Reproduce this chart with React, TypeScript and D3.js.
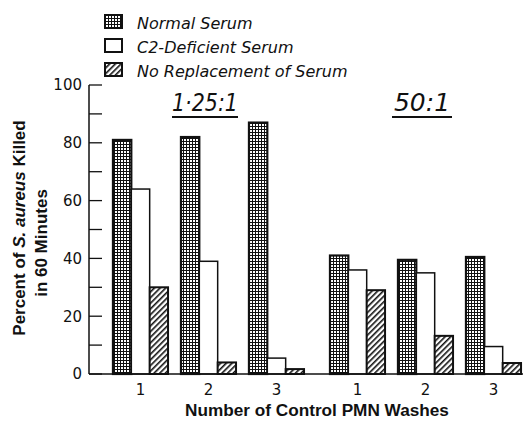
import React from "react";
import * as d3 from "d3";

const ratios = ["1·25:1", "50:1"];
const washes = ["1", "2", "3"];
const seriesNames = ["Normal Serum", "C2-Deficient Serum", "No Replacement of Serum"];
// values per ratio, per wash
const normalSerum = [81, 82, 87, 41, 39.5, 40.5];
const c2Deficient = [64, 39, 5.5, 36, 35, 9.5];
const noReplacement = [30, 4, 1.7, 29, 13.2, 3.8];
const yTicks = [0, 20, 40, 60, 80, 100];
const yMinorTicks = [10, 30, 50, 70, 90];

const W = 523;
const H = 424;

export default function App() {
  const y = d3.scaleLinear().domain([0, 100]).range([374, 85]);
  const xPanel = d3.scaleBand<string>().domain(ratios).range([106.5, 527.5]).paddingInner(0.06).paddingOuter(0);
  const xWash = d3.scaleBand<string>().domain(washes).range([0, xPanel.bandwidth()]).paddingInner(0.19).paddingOuter(0.095);
  const xSeries = d3.scaleBand<string>().domain(seriesNames).range([0, xWash.bandwidth()]).padding(0);
  const seriesData = [normalSerum, c2Deficient, noReplacement];
  const fills = ["url(#grid)", "#fff", "url(#hatch)"];
  const strokeW = [2.2, 1.5, 2];

  const bars: any[] = [];
  ratios.forEach((r, ri) => {
    washes.forEach((w, wi) => {
      const idx = ri * 3 + wi;
      seriesNames.forEach((s, si) => {
        const v = seriesData[si][idx];
        const x0 = (xPanel(r) as number) + (xWash(w) as number) + (xSeries(s) as number);
        bars.push({ key: `${r}-${w}-${s}`, x: x0, y: y(v), w: xSeries.bandwidth(), h: y(0) - y(v), si });
      });
    });
  });

  const font = "'Liberation Sans', Arial, sans-serif";
  const obl = "'DejaVu Sans', sans-serif";

  return (
    <svg width={W} height={H} style={{ position: "absolute", left: 0, top: 0, background: "#fff" }}>
      <defs>
        <pattern id="grid" width="3" height="3" patternUnits="userSpaceOnUse">
          <rect width="3" height="3" fill="#fff" />
          <rect x="0" y="0" width="3" height="1" fill="#111" />
          <rect x="0" y="0" width="1" height="3" fill="#111" />
        </pattern>
        <pattern id="hatch" width="4" height="4" patternUnits="userSpaceOnUse" patternTransform="rotate(45)">
          <rect width="4" height="4" fill="#fff" />
          <rect x="0" y="0" width="1.6" height="4" fill="#111" />
        </pattern>
      </defs>

      {/* legend */}
      {seriesNames.map((s, i) => (
        <g key={s} transform={`translate(0, ${i * 24})`}>
          <rect x={105} y={15} width={17} height={13} fill={fills[i]} stroke="#111" strokeWidth={2} />
          <text x={137} y={29} fontFamily={obl} fontStyle="oblique" fontSize={16} fill="#111">{s}</text>
        </g>
      ))}

      {/* bars */}
      {bars.map((b) => (
        <rect key={b.key} x={b.x} y={b.y} width={b.w} height={b.h} fill={fills[b.si]} stroke="#111" strokeWidth={strokeW[b.si]} />
      ))}

      {/* y axis */}
      <line x1={89} x2={89} y1={y(100)} y2={y(0)} stroke="#111" strokeWidth={1.5} />
      {[...yTicks, ...yMinorTicks].map((t) => (
        <line key={`t${t}`} x1={89} x2={102} y1={y(t)} y2={y(t)} stroke="#111" strokeWidth={1.3} />
      ))}
      {yTicks.map((t) => (
        <text key={`l${t}`} x={82} y={y(t)} dy="0.36em" textAnchor="end" fontFamily={obl} fontSize={15} fill="#111">{t}</text>
      ))}
      {/* x axis */}
      <line x1={89} x2={523} y1={y(0)} y2={y(0)} stroke="#111" strokeWidth={1.5} />
      {ratios.map((r) =>
        washes.map((w) => (
          <text key={`${r}${w}`} x={(xPanel(r) as number) + (xWash(w) as number) + xWash.bandwidth() / 2} y={395} textAnchor="middle" fontFamily={obl} fontSize={15} fill="#111">{w}</text>
        ))
      )}

      {/* panel labels */}
      {ratios.map((r, i) => {
        const cx = i === 0 ? 205 : 422;
        const uw = i === 0 ? 66 : 60;
        return (
          <g key={r}>
            <text x={cx} y={111} textAnchor="middle" fontFamily={obl} fontStyle="oblique" fontSize={24} fill="#111" textLength={i === 0 ? 66 : 56} lengthAdjust="spacingAndGlyphs">{r}</text>
            <line x1={cx - uw / 2} x2={cx + uw / 2} y1={117} y2={117} stroke="#111" strokeWidth={2} />
          </g>
        );
      })}

      {/* axis titles */}
      <text x={317} y={416} textAnchor="middle" fontFamily={font} fontWeight="bold" fontSize={17.2} fill="#111">Number of Control PMN Washes</text>
      <text transform="translate(25,228) rotate(-90)" textAnchor="middle" fontFamily={font} fontWeight="bold" fontSize={17} fill="#111">
        Percent of <tspan fontStyle="italic">S. aureus</tspan> Killed
      </text>
      <text transform="translate(47,243) rotate(-90)" textAnchor="middle" fontFamily={font} fontWeight="bold" fontSize={17} fill="#111">in 60 Minutes</text>
    </svg>
  );
}
